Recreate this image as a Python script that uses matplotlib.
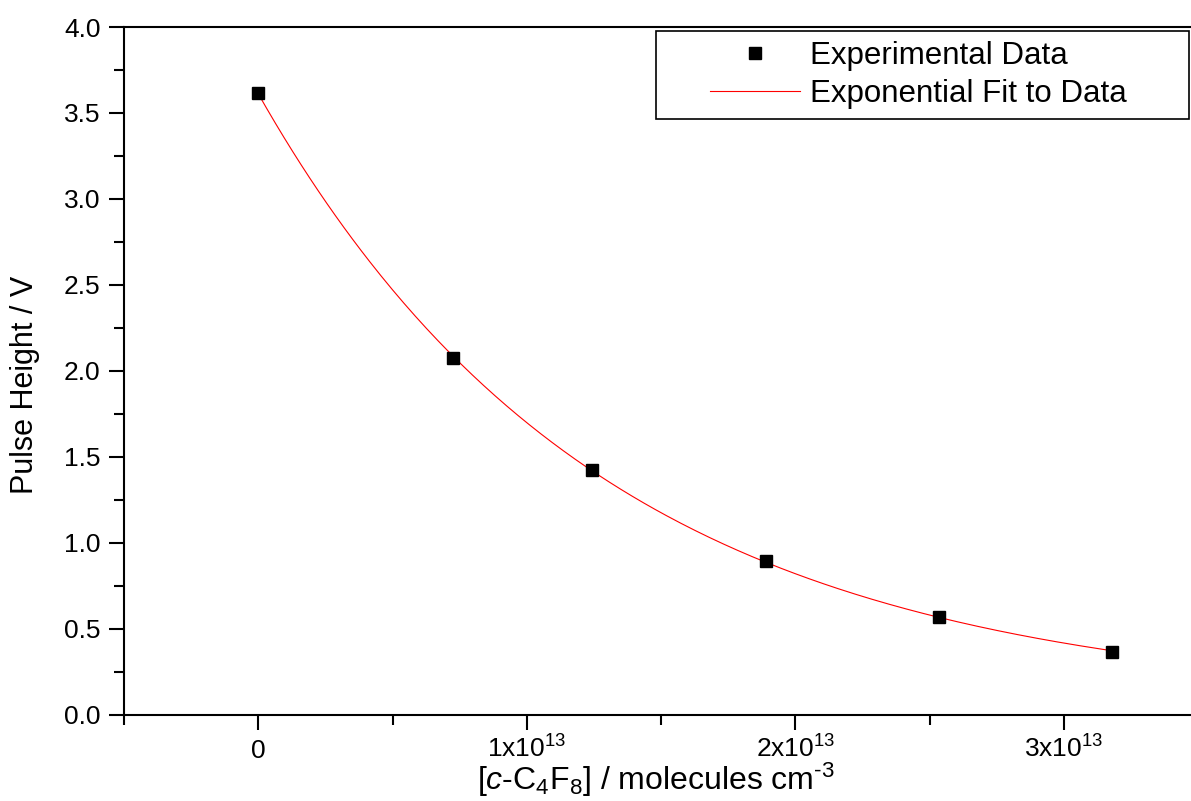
import matplotlib.pyplot as plt
import numpy as np
from matplotlib.patches import Rectangle
from matplotlib.ticker import MultipleLocator

plt.rcParams["font.family"] = ["Liberation Sans", "DejaVu Sans"]
plt.rcParams["mathtext.fontset"] = "custom"
plt.rcParams["mathtext.rm"] = "Liberation Sans"
plt.rcParams["mathtext.it"] = "Liberation Sans:italic"
plt.rcParams["mathtext.default"] = "regular"

# c-C4F8 concentration (molecules cm^-3) and measured pulse height (V)
conc = np.array([0.0, 0.7255e13, 1.244e13, 1.891e13, 2.535e13, 3.179e13])
pulse = np.array([3.615, 2.074, 1.423, 0.894, 0.568, 0.366])

x_ticks = [0, 1e13, 2e13, 3e13]
x_tick_labels = ["0", "1x10$^{13}$", "2x10$^{13}$", "3x10$^{13}$"]
y_ticks = np.arange(0, 4.01, 0.5)
y_tick_labels = [f"{v:.1f}" for v in y_ticks]


def fit_exp(x, y):
    """Least-squares y0 + A*exp(-k*x); scan k, solve A, y0 linearly."""
    xs = x / 1e13
    best = None
    for k in np.linspace(0.05, 3.0, 6000):
        M = np.column_stack([np.ones_like(xs), np.exp(-k * xs)])
        coef, *_ = np.linalg.lstsq(M, y, rcond=None)
        err = np.sum((M @ coef - y) ** 2)
        if best is None or err < best[0]:
            best = (err, coef[0], coef[1], k)
    _, y0, a, k = best
    return lambda xx: y0 + a * np.exp(-k * xx / 1e13)


fit = fit_exp(conc, pulse)
x_fit = np.linspace(conc.min(), conc.max(), 300)

W, H = 1191, 801
fig = plt.figure(figsize=(W / 100, H / 100), dpi=100)
ax = fig.add_axes([124 / W, 1 - 714.7 / H, 4 * 268.5 / W, (714.7 - 27) / H])

line, = ax.plot(x_fit, fit(x_fit), color="red", lw=0.8, zorder=2)
pts, = ax.plot(conc, pulse, ls="none", marker="s", ms=9, color="black", zorder=3)

ax.set_xlim(-0.5e13, 3.5e13)
ax.set_ylim(0, 4.0)
ax.set_xticks(x_ticks, x_tick_labels)
ax.set_yticks(y_ticks, y_tick_labels)
ax.xaxis.set_minor_locator(MultipleLocator(0.5e13))
ax.yaxis.set_minor_locator(MultipleLocator(0.25))

for side in ("left", "bottom", "top", "right"):
    ax.spines[side].set_linewidth(1.5)
ax.tick_params(which="major", direction="out", length=11, width=1.5, labelsize=19)
ax.tick_params(which="minor", direction="out", length=7, width=1.5)
ax.tick_params(axis="y", pad=6)
ax.tick_params(axis="x", pad=20)
for lab in ax.get_xticklabels():
    lab.set_va("baseline")

fig.text(656 / W, 1 - 790 / H, r"[$\mathit{c}$-C$_4$F$_8$] / molecules cm$^{\text{-3}}$",
         ha="center", va="baseline", fontsize=23)
fig.text(25 / W, 1 - 385 / H, "Pulse Height / V", rotation=90,
         ha="center", va="center", fontsize=22)

# legend box
fig.patches.append(Rectangle((656 / W, 1 - 119 / H), (1189 - 656) / W, (119 - 31) / H,
                             transform=fig.transFigure, fill=False, ec="black", lw=1.2))
fig.legend([pts, line], ["Experimental Data", "Exponential Fit to Data"],
           loc="center left", bbox_to_anchor=(694 / W, 1 - 75 / H),
           frameon=False, fontsize=22.5, borderpad=0, handlelength=2.9,
           handletextpad=0.3, labelspacing=0.25, numpoints=1)

fig.savefig("out.png", dpi=100)
